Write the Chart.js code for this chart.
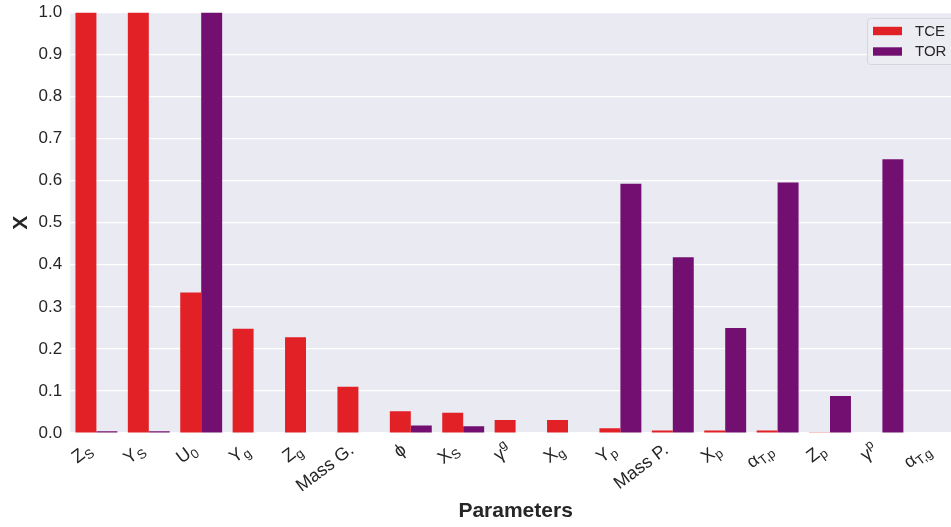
<!DOCTYPE html>
<html lang="en">
<head>
<meta charset="UTF-8">
<title>TCE vs TOR</title>
<script src="https://cdn.jsdelivr.net/npm/chart.js"></script>
<style>
  html, body { margin: 0; padding: 0; overflow: hidden; background: #fff; }
  #wrap { width: 962px; height: 527px; }
</style>
</head>
<body>
<div id="wrap"><canvas id="chart"></canvas></div>
<script>
// Parameter labels (_ = subscript, ^ = superscript)
const categories = ['Z_S', 'Y_S', 'U_0', 'Y_g', 'Z_g', 'Mass G.', 'ϕ', 'X_S', 'γ^g', 'X_g',
  'Y_p', 'Mass P.', 'X_p', 'α_{T,p}', 'Z_p', 'γ^p', 'α_{T,g}'];

const tceValues = [1.0, 1.0, 0.334, 0.248, 0.228, 0.110, 0.052, 0.048, 0.031, 0.031,
  0.011, 0.006, 0.006, 0.006, 0.002, 0.001, 0.0];
const torValues = [0.004, 0.004, 1.0, 0.0, 0.0, 0.0, 0.018, 0.016, 0.0, 0.0,
  0.593, 0.418, 0.250, 0.596, 0.088, 0.651, 0.0];

const yTicks = [0, 0.1, 0.2, 0.3, 0.4, 0.5, 0.6, 0.7, 0.8, 0.9, 1.0];

const RED = '#e12126';
const PURPLE = '#720f70';
const TEXT = '#262626';
const FONT = '"Liberation Sans", Arial, sans-serif';

// split 'α_{T,p}' into pieces of normal / sub / sup text
function parseLabel(str) {
  const parts = [];
  let i = 0, buf = '';
  while (i < str.length) {
    const ch = str[i];
    if (ch === '_' || ch === '^') {
      if (buf) { parts.push({ t: buf, k: 'n' }); buf = ''; }
      let txt;
      if (str[i + 1] === '{') {
        const end = str.indexOf('}', i);
        txt = str.slice(i + 2, end);
        i = end + 1;
      } else {
        txt = str[i + 1];
        i += 2;
      }
      parts.push({ t: txt, k: ch === '_' ? 'sub' : 'sup' });
    } else {
      buf += ch;
      i++;
    }
  }
  if (buf) parts.push({ t: buf, k: 'n' });
  return parts;
}

const bgPlugin = {
  id: 'bg',
  beforeDraw(chart) {
    const { ctx, chartArea: a } = chart;
    ctx.save();
    ctx.fillStyle = '#eaeaf2';
    ctx.fillRect(a.left, a.top, a.right - a.left, a.bottom - a.top);
    ctx.restore();
  }
};

const labelPlugin = {
  id: 'labels',
  afterDraw(chart) {
    const { ctx, chartArea: a } = chart;
    const xScale = chart.scales.x;
    const size = 18, small = 13;
    const theta = 37 * Math.PI / 180;
    const c = Math.cos(theta), s = Math.sin(theta);
    const asc = size * 0.9, desc = size * 0.22;
    ctx.save();
    ctx.fillStyle = TEXT;
    ctx.textBaseline = 'alphabetic';
    ctx.textAlign = 'left';
    categories.forEach((lab, i) => {
      const parts = parseLabel(lab);
      let w = 0;
      parts.forEach(p => {
        ctx.font = (p.k === 'n' ? size : small) + 'px ' + FONT;
        p.w = ctx.measureText(p.t).width;
        w += p.w;
      });
      const tx = xScale.getPixelForTick(i) - 1;
      const top = a.bottom + 6;
      const ox = tx - (w * c + desc * s);
      const oy = top + w * s + asc * c;
      ctx.save();
      ctx.translate(ox, oy);
      ctx.rotate(-theta);
      let x = 0;
      parts.forEach(p => {
        ctx.font = (p.k === 'n' ? size : small) + 'px ' + FONT;
        const dy = p.k === 'sub' ? size * 0.22 : p.k === 'sup' ? -size * 0.42 : 0;
        ctx.fillText(p.t, x, dy);
        x += p.w;
      });
      ctx.restore();
    });

    // legend box in the upper right corner
    const lx = 867, ly = 18;
    ctx.fillStyle = 'rgba(236,236,243,0.9)';
    ctx.strokeStyle = '#d6d6dc';
    ctx.lineWidth = 1;
    ctx.beginPath();
    ctx.roundRect(lx + 0.5, ly + 0.5, 110, 46, 3);
    ctx.fill();
    ctx.stroke();
    const items = [['TCE', RED], ['TOR', PURPLE]];
    ctx.font = '15px ' + FONT;
    ctx.textBaseline = 'middle';
    items.forEach((it, k) => {
      const yy = ly + 13 + k * 20.5;
      ctx.fillStyle = it[1];
      ctx.fillRect(873, yy - 4.2, 29, 8.4);
      ctx.fillStyle = TEXT;
      ctx.fillText(it[0], 915, yy + 0.5);
    });
    ctx.restore();
  }
};

new Chart(document.getElementById('chart'), {
  type: 'bar',
  data: {
    labels: categories,
    datasets: [
      { label: 'TCE', data: tceValues, backgroundColor: RED, categoryPercentage: 0.8, barPercentage: 1.0 },
      { label: 'TOR', data: torValues, backgroundColor: PURPLE, categoryPercentage: 0.8, barPercentage: 1.0 }
    ]
  },
  options: {
    responsive: true,
    maintainAspectRatio: false,
    animation: false,
    layout: { padding: { top: 12.5, right: 1, left: 0, bottom: 0 } },
    plugins: {
      legend: { display: false },
      tooltip: { enabled: false }
    },
    scales: {
      x: {
        grid: { display: false },
        border: { display: false },
        ticks: { display: false },
        title: {
          display: true,
          text: 'Parameters',
          color: TEXT,
          font: { family: FONT, size: 21, weight: 'bold' },
          padding: { top: 0, bottom: 3 }
        },
        afterFit(scale) { scale.height = 94; }
      },
      y: {
        min: 0,
        max: 1,
        afterBuildTicks(scale) { scale.ticks = yTicks.map(v => ({ value: v })); },
        grid: { color: '#ffffff', lineWidth: 1.2, drawTicks: false },
        border: { display: false },
        ticks: {
          color: TEXT,
          padding: 8,
          font: { family: FONT, size: 17 },
          callback: v => v.toFixed(1)
        },
        title: {
          display: true,
          text: 'X',
          color: TEXT,
          font: { family: FONT, size: 21, weight: 'bold' },
          padding: { top: 9, bottom: 0 }
        },
        afterFit(scale) {
          scale.width = 70.2;
          scale.paddingTop = 0;
          scale.paddingBottom = 0;
        }
      }
    }
  },
  plugins: [bgPlugin, labelPlugin]
});
</script>
</body>
</html>
